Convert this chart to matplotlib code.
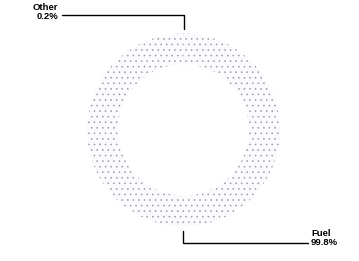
import numpy as np
import matplotlib
matplotlib.use('Agg')
import matplotlib.pyplot as plt

labels = ['Fuel', 'Other']
shares = [99.8, 0.2]
pct_text = ['99.8%', '0.2%']

plt.rcParams['font.family'] = ['Liberation Sans', 'DejaVu Sans']
plt.rcParams['hatch.linewidth'] = 0.4

fig = plt.figure(figsize=(3.59, 2.61), dpi=100)
ax = fig.add_axes([87/359, 34/261, 193/359, 194/261])

wedges, _ = ax.pie(shares, startangle=90, radius=1.0,
                   wedgeprops=dict(width=0.32, facecolor='#fbfafc', linewidth=0))
for w in wedges:
    w.set_hatch('...')
    w.set_edgecolor('#9e96a8')
    w.set_linewidth(0)
ax.set_xlim(-1, 1)
ax.set_ylim(-1, 1)
ax.axis('off')

# leader lines and labels: Other top-left, Fuel bottom-right
pos = {'Other': ((62, 261-15), (58, 261-12), 'right'),
       'Fuel': ((308, 261-243), (311, 261-238), 'left')}
for w, lab, pt in zip(wedges, labels, pct_text):
    ang = np.deg2rad((w.theta1 + w.theta2) / 2)
    x, y = np.cos(ang) * 1.05, np.sin(ang) * 1.05
    end, tpos, ha = pos[lab]
    ax.annotate('', xy=(x, y), xycoords='data', xytext=end, textcoords='figure pixels',
                annotation_clip=False,
                arrowprops=dict(arrowstyle='-', color='black', lw=1.0,
                                shrinkA=0, shrinkB=0,
                                connectionstyle='angle,angleA=0,angleB=90,rad=0'))
    fig.text(tpos[0]/359, tpos[1]/261, lab + '\n' + pt, ha=ha, va='center',
             fontsize=6.8, fontweight='bold', linespacing=1.1)

plt.savefig('out.png', dpi=100)
